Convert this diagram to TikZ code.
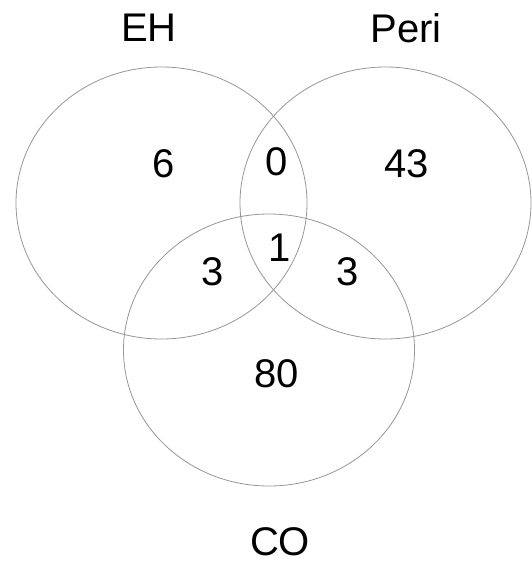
\documentclass[tikz,border=0pt]{standalone}
\usepackage{fontspec}
\setmainfont{Liberation Sans}
\usepackage{tikz}
\usetikzlibrary{shapes.geometric}
\definecolor{venngray}{RGB}{150,150,150}

\begin{document}
\begin{tikzpicture}[x=1pt, y=-1pt,
      set/.style={draw=venngray, line width=0.8pt, ellipse, inner sep=0pt,
                  minimum width=291pt, minimum height=272pt},
      setlabel/.style={font=\fontsize{40}{48}\selectfont, inner sep=0pt},
      num/.style={font=\fontsize{40}{48}\selectfont, inner sep=0pt}]
    \useasboundingbox (0,0) rectangle (531,565);
    % the three sets
    \node[set] (eh) at (161.5,203) {};
    \node[set] (peri) at (385.5,203) {};
    \node[set] (co) at (269,350) {};
    % set names
    \node[setlabel] (ehname) at (149,28) {EH};
    \node[setlabel] (periname) at (406,28) {Peri};
    \node[setlabel] (coname) at (280,542) {CO};
    % counts
    \node[num] (onlyeh) at (164,164) {6};
    \node[num] (onlyperi) at (407,164) {43};
    \node[num] (onlyco) at (277,374) {80};
    \node[num] (ehperi) at (277,162) {0};
    \node[num] (ehco) at (213,272) {3};
    \node[num] (perico) at (348,272) {3};
    \node[num] (all) at (280,248) {1};
  \end{tikzpicture}
\end{document}
